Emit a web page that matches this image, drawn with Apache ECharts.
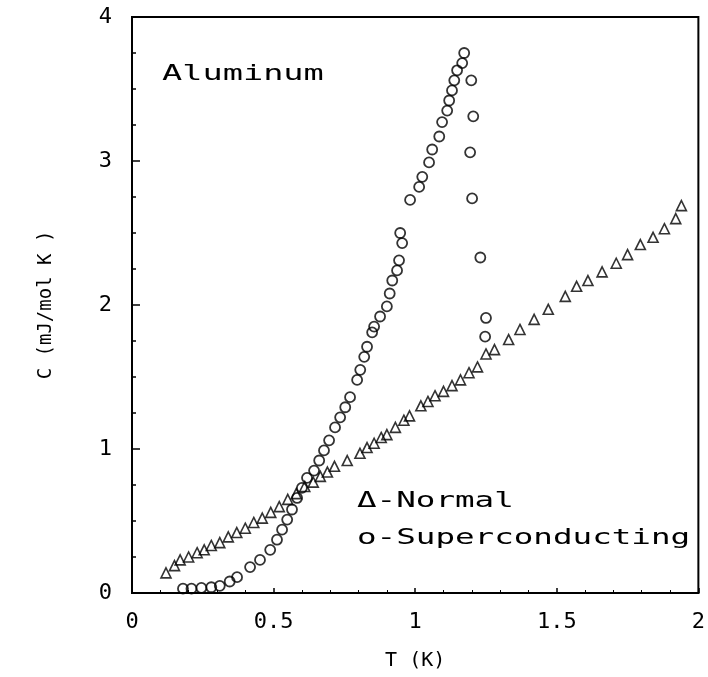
<!DOCTYPE html>
<html>
<head>
<meta charset="utf-8">
<style>html,body{margin:0;padding:0;background:#fff;}#c{width:708px;height:677px;}</style>
<script src="https://cdn.jsdelivr.net/npm/echarts@6/dist/echarts.min.js"></script>
</head>
<body>
<div id="c"></div>
<script>
// Normal state (triangles): temperature T (K) and heat capacity C (mJ/mol K)
var normalT = [0.12,0.15,0.17,0.20,0.23,0.255,0.28,0.31,0.34,0.37,0.40,0.43,0.46,0.49,0.52,0.55,0.58,0.61,0.64,0.665,0.69,0.715,0.76,0.805,0.83,0.855,0.88,0.90,0.93,0.96,0.98,1.02,1.045,1.07,1.10,1.13,1.16,1.19,1.22,1.25,1.28,1.33,1.37,1.42,1.47,1.53,1.57,1.61,1.66,1.71,1.75,1.795,1.84,1.88,1.92,1.94];
var normalC = [0.14,0.19,0.23,0.25,0.28,0.30,0.33,0.35,0.39,0.42,0.45,0.49,0.52,0.56,0.60,0.65,0.69,0.74,0.77,0.81,0.84,0.88,0.92,0.97,1.01,1.04,1.08,1.10,1.15,1.20,1.23,1.30,1.33,1.37,1.40,1.44,1.48,1.53,1.57,1.66,1.69,1.76,1.83,1.90,1.97,2.06,2.13,2.17,2.23,2.29,2.35,2.42,2.47,2.53,2.60,2.69];
// Superconducting state (circles)
var superT = [0.18,0.21,0.245,0.28,0.31,0.345,0.371,0.417,0.452,0.488,0.512,0.530,0.548,0.565,0.583,0.60,0.618,0.643,0.661,0.678,0.696,0.717,0.735,0.753,0.770,0.795,0.806,0.82,0.83,0.848,0.855,0.876,0.90,0.91,0.919,0.936,0.943,0.954,0.947,0.982,1.014,1.025,1.049,1.06,1.085,1.095,1.113,1.12,1.13,1.138,1.148,1.166,1.173,1.198,1.205,1.194,1.201,1.23,1.25,1.247];
var superC = [0.03,0.03,0.035,0.04,0.05,0.08,0.11,0.18,0.23,0.30,0.37,0.44,0.51,0.58,0.66,0.73,0.80,0.85,0.92,0.99,1.06,1.15,1.22,1.29,1.36,1.48,1.55,1.64,1.71,1.81,1.85,1.92,1.99,2.08,2.17,2.24,2.31,2.43,2.50,2.73,2.82,2.89,2.99,3.08,3.17,3.27,3.35,3.42,3.49,3.56,3.63,3.68,3.75,3.56,3.31,3.06,2.74,2.33,1.91,1.78];
// Axis tick labels
var xTicks = [0, 0.5, 1, 1.5, 2];
var yTicks = [0, 1, 2, 3, 4];

function pairs(a, b) { return a.map(function (v, i) { return [v, b[i]]; }); }

var mono = '"DejaVu Sans Mono", "Liberation Mono", monospace';
var chart = echarts.init(document.getElementById('c'), null, {renderer: 'canvas'});
chart.setOption({
  backgroundColor: '#ffffff',
  animation: false,
  grid: {left: 132, right: 8, top: 17, bottom: 84, show: true, borderColor: '#000', borderWidth: 2, backgroundColor: 'transparent'},
  xAxis: {
    type: 'value', min: xTicks[0], max: xTicks[xTicks.length - 1], interval: 0.5,
    name: 'T (K)', nameLocation: 'middle', nameGap: 58,
    nameTextStyle: {fontFamily: mono, fontSize: 20, color: '#000'},
    axisLine: {show: true, lineStyle: {color: '#000', width: 2}},
    axisTick: {show: true, inside: true, length: 5, lineStyle: {color: '#000', width: 1.5}},
    minorTick: {show: true, splitNumber: 5, length: 3, lineStyle: {color: '#000', width: 1}},
    splitLine: {show: false},
    axisLabel: {fontFamily: mono, fontSize: 22, color: '#000', margin: 18,
      formatter: function (v) { return xTicks.indexOf(v) >= 0 ? String(v) : ''; }}
  },
  yAxis: {
    type: 'value', min: yTicks[0], max: yTicks[yTicks.length - 1], interval: 1,
    name: 'C (mJ/mol K )', nameLocation: 'middle', nameGap: 76, nameRotate: 90,
    nameTextStyle: {fontFamily: mono, fontSize: 19, color: '#000'},
    axisLine: {show: true, lineStyle: {color: '#000', width: 2}},
    axisTick: {show: true, inside: true, length: 8, lineStyle: {color: '#000', width: 1.5}},
    minorTick: {show: true, splitNumber: 4, length: 4, lineStyle: {color: '#000', width: 1.5}},
    splitLine: {show: false},
    axisLabel: {fontFamily: mono, fontSize: 22, color: '#000', margin: 20,
      formatter: function (v) { return yTicks.indexOf(v) >= 0 ? String(v) : ''; }}
  },
  series: [
    {
      name: 'Normal', type: 'scatter', data: pairs(normalT, normalC),
      symbol: 'triangle', symbolSize: 10,
      itemStyle: {color: 'rgba(255,255,255,0)', borderColor: '#000', borderWidth: 1.6}
    },
    {
      name: 'Superconducting', type: 'scatter', data: pairs(superT, superC),
      symbol: 'circle', symbolSize: 10,
      itemStyle: {color: 'rgba(255,255,255,0)', borderColor: '#000', borderWidth: 1.8}
    }
  ],
  graphic: [
    {type: 'text', left: 162, top: 64, scaleX: 1.6, style: {text: 'Aluminum', font: '21px ' + mono, fill: '#000'}},
    {type: 'text', left: 357, top: 491, scaleX: 1.55, style: {text: '\u0394-Normal', font: '21px ' + mono, fill: '#000'}},
    {type: 'text', left: 357, top: 528, scaleX: 1.55, style: {text: 'o-Superconducting', font: '21px ' + mono, fill: '#000'}}
  ]
});
</script>
</body>
</html>
